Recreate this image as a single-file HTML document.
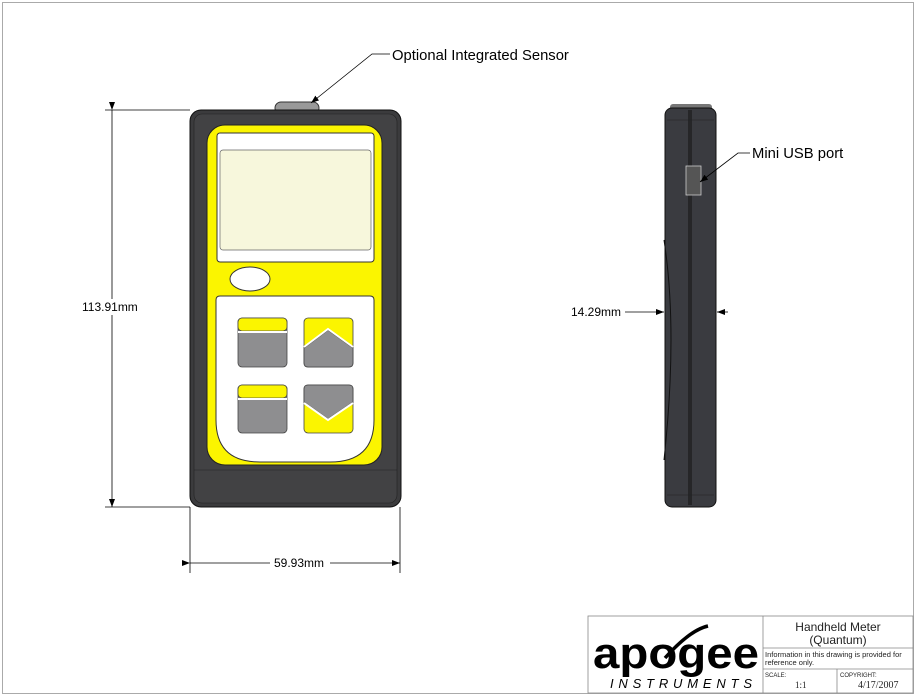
<!DOCTYPE html>
<html><head><meta charset="utf-8"><style>
body{margin:0;background:#fff;}
svg{display:block;font-family:"Liberation Sans",sans-serif;}
</style></head><body>
<svg width="919" height="697" viewBox="0 0 919 697" xmlns="http://www.w3.org/2000/svg">
<defs><marker id="ar" markerWidth="8" markerHeight="6" refX="8" refY="3" orient="auto" markerUnits="userSpaceOnUse"><path d="M0,0 L8,3 L0,6 z" fill="#000"/></marker></defs>
<rect x="2.5" y="2.5" width="911" height="691" fill="none" stroke="#aaa" stroke-width="1"/>
<!-- front device -->
<rect x="275" y="102" width="44" height="12" rx="6" fill="#999" stroke="#333"/>
<rect x="190" y="110" width="211" height="397" rx="11" fill="#3b3b3d" stroke="#111"/>
<rect x="194" y="114" width="203" height="389" rx="8" fill="#424244" stroke="#222" stroke-width="0.6"/>
<rect x="207" y="125" width="175" height="340" rx="18" fill="#fbf500" stroke="#222"/>
<rect x="217" y="133" width="157" height="129" rx="3" fill="#fff" stroke="#333"/>
<rect x="220" y="150" width="151" height="100" rx="3" fill="#f7f7dc" stroke="#666" stroke-width="0.7"/>
<ellipse cx="250" cy="279" rx="20" ry="12" fill="#fff" stroke="#333"/>
<path d="M220,296 H370 Q374,296 374,300 V420 Q374,462 330,462 H260 Q216,462 216,420 V300 Q216,296 220,296 Z" fill="#fff" stroke="#333"/>
<g stroke="#444" stroke-width="0.8">
<rect x="238" y="318" width="49" height="49" rx="4" fill="#8e8e90"/>
<rect x="238" y="318" width="49" height="13" rx="4" fill="#fbf500"/>
<line x1="238" y1="332" x2="287" y2="332" stroke="#fff" stroke-width="2"/>
<rect x="238" y="385" width="49" height="48" rx="4" fill="#8e8e90"/>
<rect x="238" y="385" width="49" height="13" rx="4" fill="#fbf500"/>
<line x1="238" y1="399" x2="287" y2="399" stroke="#fff" stroke-width="2"/>
<rect x="304" y="318" width="49" height="49" rx="4" fill="#fbf500"/>
<path d="M304,348 L328,330 L353,348 V363 Q353,367 349,367 H308 Q304,367 304,363 Z" fill="#8e8e90"/>
<polyline points="304,347 328,329 353,347" fill="none" stroke="#fff" stroke-width="2"/>
<rect x="304" y="385" width="49" height="48" rx="4" fill="#fbf500"/>
<path d="M304,389 Q304,385 308,385 H349 Q353,385 353,389 V402 L328,419 L304,402 Z" fill="#8e8e90"/>
<polyline points="304,403 328,420 353,403" fill="none" stroke="#fff" stroke-width="2"/>
</g>
<line x1="194" y1="470" x2="397" y2="470" stroke="#222" stroke-width="0.6"/>
<!-- side device -->
<rect x="670" y="104" width="42" height="8" rx="3" fill="#777"/>
<rect x="665" y="108" width="51" height="399" rx="7" fill="#3a3b40" stroke="#111"/>
<line x1="689" y1="110" x2="689" y2="505" stroke="#111"/>
<line x1="691" y1="110" x2="691" y2="505" stroke="#111"/>
<line x1="667" y1="120" x2="714" y2="120" stroke="#222" stroke-width="0.6"/>
<line x1="667" y1="495" x2="714" y2="495" stroke="#222" stroke-width="0.6"/>
<path d="M664,240 Q678,330 664,460" fill="none" stroke="#111"/>
<rect x="686" y="166" width="15" height="29" fill="#555" stroke="#ccc" stroke-width="0.8"/>
<!-- dimensions -->
<g stroke="#000" stroke-width="0.8" fill="none">
<line x1="105" y1="110" x2="190" y2="110"/>
<line x1="105" y1="507" x2="190" y2="507"/>
<line x1="112" y1="110" x2="112" y2="507" marker-start="url(#ar)" marker-end="url(#ar)"/>
<line x1="190" y1="507" x2="190" y2="573"/>
<line x1="400" y1="507" x2="400" y2="573"/>
<line x1="190" y1="563" x2="400" y2="563" marker-start="url(#ar)" marker-end="url(#ar)"/>
<line x1="625" y1="312" x2="664" y2="312" marker-end="url(#ar)"/>
<line x1="728" y1="312" x2="717" y2="312" marker-end="url(#ar)"/>
<polyline points="390,54 372,54 311,103" marker-end="url(#ar)"/>
<polyline points="750,153 738,153 700,182" marker-end="url(#ar)"/>
</g>
<rect x="80" y="299" width="64" height="16" fill="#fff"/>
<text x="82" y="311" font-size="12">113.91mm</text>
<rect x="270" y="556" width="60" height="14" fill="#fff"/>
<text x="274" y="567" font-size="12">59.93mm</text>
<text x="571" y="316" font-size="12">14.29mm</text>
<text x="392" y="60" font-size="14.8">Optional Integrated Sensor</text>
<text x="752" y="158" font-size="14.8">Mini USB port</text>
<!-- title block -->
<g stroke="#888" stroke-width="0.8" fill="none">
<rect x="588" y="616" width="325" height="77"/>
<line x1="763" y1="616" x2="763" y2="693"/>
<line x1="763" y1="648" x2="913" y2="648"/>
<line x1="763" y1="669" x2="913" y2="669"/>
<line x1="837" y1="669" x2="837" y2="693"/>
</g>
<text x="593" y="668" font-size="44" font-weight="bold" textLength="166" lengthAdjust="spacingAndGlyphs">apogee</text>
<path d="M665,658 Q690,630 708,626" fill="none" stroke="#000" stroke-width="3.5"/>
<text x="610" y="688" font-size="13" font-style="italic" textLength="142" lengthAdjust="spacing">INSTRUMENTS</text>
<text x="838" y="631" font-size="12" text-anchor="middle" fill="#222">Handheld Meter</text>
<text x="838" y="644" font-size="12" text-anchor="middle" fill="#222">(Quantum)</text>
<text x="765" y="657" font-size="7.5" fill="#222">Information in this drawing is provided for</text>
<text x="765" y="665" font-size="7.5" fill="#222">reference only.</text>
<text x="765" y="677" font-size="6" fill="#222">SCALE:</text>
<text x="795" y="688" font-size="9" font-family="Liberation Serif" fill="#222">1:1</text>
<text x="840" y="677" font-size="6" fill="#222">COPYRIGHT:</text>
<text x="858" y="688" font-size="10" font-family="Liberation Serif" fill="#222">4/17/2007</text>
</svg>
</body></html>
